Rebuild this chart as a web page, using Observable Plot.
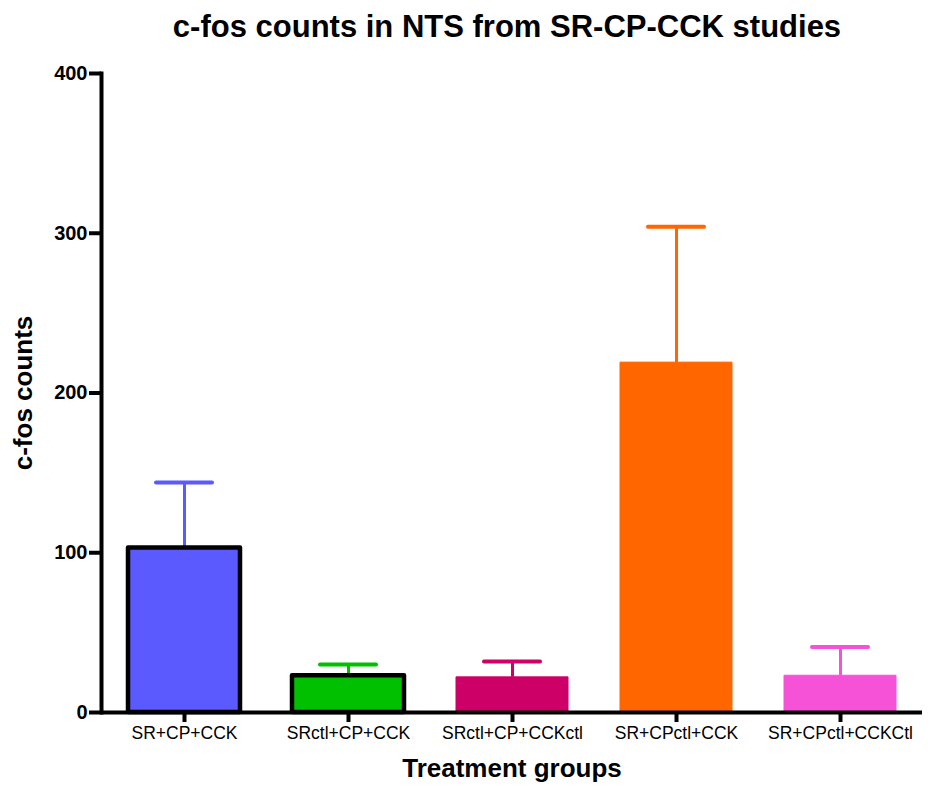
<!DOCTYPE html>
<html>
<head>
<meta charset="utf-8">
<script src="https://cdn.jsdelivr.net/npm/d3@7"></script>
<script src="https://cdn.jsdelivr.net/npm/@observablehq/plot@0.6"></script>
<style>
  body { margin: 0; background: #fff; font-family: "Liberation Sans", Arial, sans-serif; }
  #title { height: 50px; line-height: 54px; text-align: center; font-weight: bold; font-size: 31px; width: 930px; padding-left: 84px; box-sizing: border-box; }
</style>
</head>
<body>
<div id="title">c-fos counts in NTS from SR-CP-CCK studies</div>
<div id="chart"></div>
<script>
const groups = ["SR+CP+CCK", "SRctl+CP+CCK", "SRctl+CP+CCKctl", "SR+CPctl+CCK", "SR+CPctl+CCKCtl"];
const means = [103, 23, 22, 219, 23];
const errors = [41, 7, 10, 85, 18];
const colors = ["#5a5aff", "#00c000", "#cc0066", "#ff6600", "#f652d8"];
const outlined = [true, true, false, false, false];
const yTicks = [0, 100, 200, 300, 400];

const data = groups.map((g, i) => ({group: g, mean: means[i], err: errors[i], color: colors[i], outlined: outlined[i]}));

const chart = Plot.plot({
  width: 930,
  height: 740,
  marginTop: 23,
  marginBottom: 78,
  marginLeft: 101,
  marginRight: 8,
  style: {fontFamily: "Liberation Sans, Arial, sans-serif", color: "#000", background: "#fff"},
  x: {domain: groups, paddingInner: 0.32, paddingOuter: 0.16, label: null},
  y: {domain: [0, 400], label: null},
  marks: [
    Plot.ruleX(data, {x: "group", y1: "mean", y2: d => d.mean + d.err, stroke: "color", strokeWidth: 3}),
    Plot.tickY(data, {x: "group", y: d => d.mean + d.err, stroke: "color", strokeWidth: 4, inset: 28, strokeLinecap: "round"}),
    Plot.barY(data, {x: "group", y: "mean", fill: "color", stroke: d => d.outlined ? "#000" : d.color, strokeWidth: d => d.outlined ? 4.5 : 1, strokeLinejoin: "round"}),
    Plot.ruleY([0], {strokeWidth: 4, stroke: "#000"}),
    Plot.frame({anchor: "left", strokeWidth: 4, stroke: "#000"}),
    Plot.axisY({ticks: yTicks, tickSize: 12, tickPadding: 2, tickWidth: 4, strokeWidth: 4, fontSize: 20, fontWeight: "bold", label: "c-fos counts", labelAnchor: "center", labelArrow: "none", labelOffset: 88}),
    Plot.axisX({tickSize: 10, tickPadding: 4, strokeWidth: 4, fontSize: 17.5, label: "Treatment groups", labelAnchor: "center", labelArrow: "none", labelOffset: 64})
  ]
});
document.getElementById("chart").appendChild(chart);
d3.select(chart).selectAll("[aria-label='y-axis label'], [aria-label='x-axis label']")
  .attr("font-size", 26).attr("font-weight", "bold");
d3.select(chart).selectAll("[aria-label='y-axis tick'], [aria-label='x-axis tick']").attr("stroke-width", 4);
</script>
</body>
</html>
